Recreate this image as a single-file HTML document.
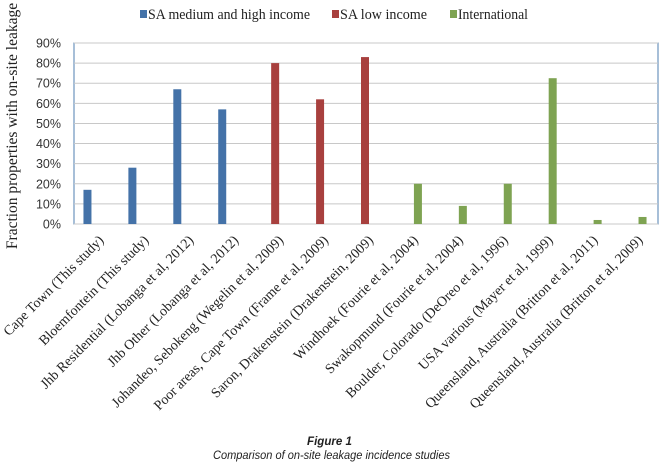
<!DOCTYPE html>
<html><head><meta charset="utf-8"><style>
html,body{margin:0;padding:0;background:#fff;}
svg{display:block;}
</style></head><body>
<svg id="chart" width="668" height="465" xmlns="http://www.w3.org/2000/svg"></svg>
<script>
const categories=["Cape Town (This study)","Bloemfontein (This study)","Jhb Residential (Lobanga et al, 2012)","Jhb Other (Lobanga et al, 2012)","Johandeo, Sebokeng (Wegelin et al, 2009)","Poor areas, Cape Town (Frame et al, 2009)","Saron, Drakenstein (Drakenstein, 2009)","Windhoek (Fourie et al, 2004)","Swakopmund (Fourie et al, 2004)","Boulder, Colorado (DeOreo et al, 1996)","USA various (Mayer et al, 1999)","Queensland, Australia (Britton et al, 2011)","Queensland, Australia (Britton et al, 2009)"];
const seriesNames=["SA medium and high income","SA low income","International"];
const seriesColors=["#4472a8","#a8403e","#7ea352"];
const saMedHigh=[17,28,67,57,null,null,null,null,null,null,null,null,null];
const saLow=[null,null,null,null,80,62,83,null,null,null,null,null,null];
const international=[null,null,null,null,null,null,null,20,9,20,72.5,2,3.5];
const yTicks=[0,10,20,30,40,50,60,70,80,90];

const svg=document.getElementById('chart');
const NS="http://www.w3.org/2000/svg";
function mk(tag,attrs,parent){const e=document.createElementNS(NS,tag);for(const k in attrs)e.setAttribute(k,attrs[k]);(parent||svg).appendChild(e);return e;}
const L=74,R=658,T=43,B=224;
const y=v=>B-(v/90)*(B-T);
const band=(R-L)/categories.length;
const xc=i=>L+band*(i+0.5);
const bw=8;

const frame=mk('rect',{x:L,y:T,width:R-L,height:B-T,fill:'#fff',stroke:'#4f7fb0','stroke-width':1});


yTicks.forEach(t=>{
  const g=mk('line',{x1:L,x2:R,y1:y(t),y2:y(t),stroke:'#c8c8c8','stroke-width':1});
  
  
  const tx=mk('text',{x:L-13,y:y(t)+4.5,'text-anchor':'end','font-family':'Liberation Sans, sans-serif','font-size':12.5,fill:'#333'});
  tx.textContent=t+'%';
  
  
});
const all=[saMedHigh,saLow,international];
all.forEach((s,si)=>{
  s.forEach((v,i)=>{
    if(v==null)return;
    const r=mk('rect',{x:xc(i)-1.5*bw+si*bw-1,y:y(v),width:bw,height:B-y(v),fill:seriesColors[si]});
    
    
  });
});
categories.forEach((c,i)=>{
  const x=xc(i)+8,yy=241;
  const t=mk('text',{x:x,y:yy,'text-anchor':'end','font-family':'Liberation Serif, serif','font-size':14,fill:'#222',transform:`rotate(-45 ${x} ${yy})`});
  t.textContent=c;
  
  
});
const yt=mk('text',{x:17,y:126,'text-anchor':'middle','font-family':'Liberation Serif, serif','font-size':15.5,fill:'#222',transform:'rotate(-90 17 126)'});
yt.textContent='Fraction properties with on-site leakage';


const lx=[140,332,450];
const lw=[162,87,70];
seriesNames.forEach((n,i)=>{
  const s=mk('rect',{x:lx[i],y:10,width:7,height:8,fill:seriesColors[i]});
  
  
  const t=mk('text',{x:lx[i]+8,y:19,'font-family':'Liberation Serif, serif','font-size':15,fill:'#222',textLength:lw[i],lengthAdjust:'spacingAndGlyphs'});
  t.textContent=n;
  
  
});
const f=mk('text',{x:307,y:445,'font-family':'Liberation Sans, sans-serif','font-size':12,'font-style':'italic','font-weight':'bold',fill:'#222',textLength:45,lengthAdjust:'spacingAndGlyphs'});
f.textContent='Figure 1';


const cap=mk('text',{x:213,y:459,'font-family':'Liberation Sans, sans-serif','font-size':11.5,'font-style':'italic',fill:'#222',textLength:237,lengthAdjust:'spacingAndGlyphs'});
cap.textContent='Comparison of on-site leakage incidence studies';


</script>
</body></html>
